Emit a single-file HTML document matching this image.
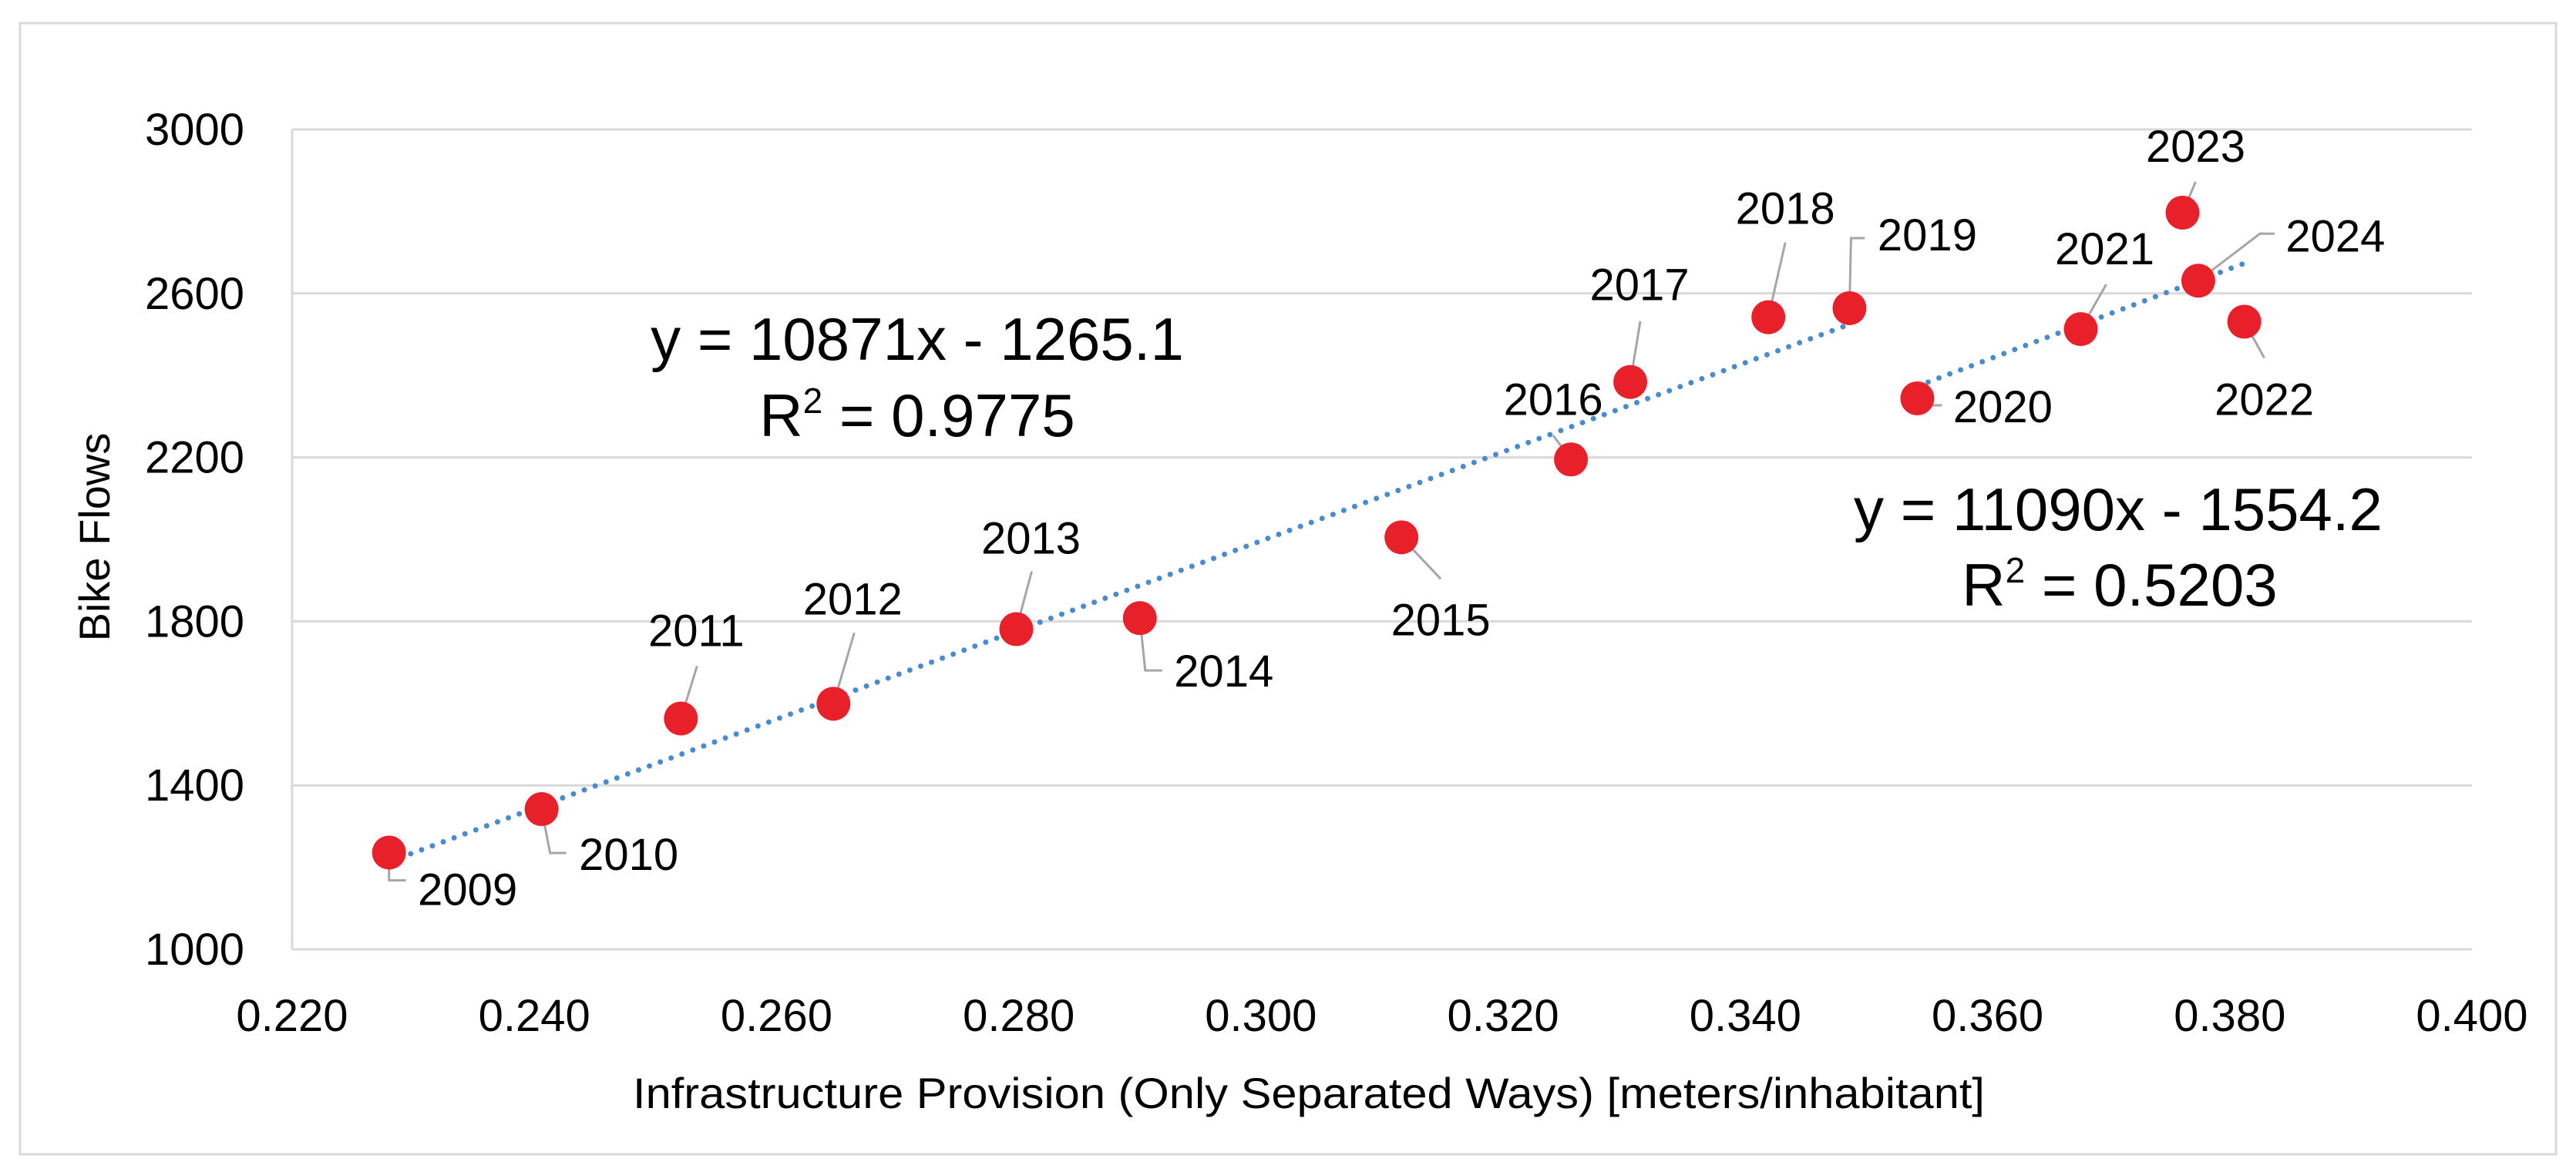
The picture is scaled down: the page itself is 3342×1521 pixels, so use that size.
<!DOCTYPE html>
<html><head><meta charset="utf-8">
<style>
html,body{margin:0;padding:0;background:#fff;}
svg{display:block;font-family:"Liberation Sans",sans-serif;}
</style></head>
<body>
<svg id="chart" width="3342" height="1521" viewBox="0 0 3342 1521" xmlns="http://www.w3.org/2000/svg">
<rect x="26" y="30" width="3290" height="1468" fill="#fff" stroke="#d9d9d9" stroke-width="3"/>
<g id="grid"></g><g id="trend"></g><g id="leaders"></g><g id="points"></g><g id="labels"></g><g id="ticks"></g>
<text transform="translate(142,697) rotate(-90)" text-anchor="middle" font-size="56" fill="#000">Bike Flows</text>
<text x="821" y="1438" font-size="56" textLength="1754" lengthAdjust="spacingAndGlyphs" fill="#000">Infrastructure Provision (Only Separated Ways) [meters/inhabitant]</text>
<g font-size="78" text-anchor="middle" fill="#000">
<text x="1190" y="467">y = 10871x - 1265.1</text>
<text x="1190" y="566">R<tspan dy="-30" font-size="46">2</tspan><tspan dy="30"> = 0.9775</tspan></text>
</g>
<g font-size="78" text-anchor="middle" fill="#000">
<text x="2748" y="688">y = 11090x - 1554.2</text>
<text x="2750" y="786">R<tspan dy="-30" font-size="46">2</tspan><tspan dy="30"> = 0.5203</tspan></text>
</g>
</svg>
<script>
const years=["2009","2010","2011","2012","2013","2014","2015","2016","2017","2018","2019","2020","2021","2022","2023","2024"];
const xVals=[0.2280,0.2406,0.2521,0.2647,0.2798,0.2900,0.3116,0.3256,0.3305,0.3419,0.3486,0.3542,0.3677,0.3812,0.3761,0.3774];
const yVals=[1236,1342,1563,1599,1781,1808,2005,2195,2384,2542,2564,2344,2513,2531,2797,2631];
const xTicks=["0.220","0.240","0.260","0.280","0.300","0.320","0.340","0.360","0.380","0.400"];
const yTicks=["1000","1400","1800","2200","2600","3000"];
const trend1=[10871,-1265.1];
const trend2=[11090,-1554.2];
const NS="http://www.w3.org/2000/svg";
const L=379,R=3207,T=168,B=1232,X0=0.22,X1=0.4,Y0=1000,Y1=3000;
const sx=v=>L+(v-X0)/(X1-X0)*(R-L);
const sy=v=>B-(v-Y0)/(Y1-Y0)*(B-T);
function mk(tag,attrs,parent){const e=document.createElementNS(NS,tag);for(const k in attrs)e.setAttribute(k,attrs[k]);document.getElementById(parent).appendChild(e);return e;}
yTicks.forEach(t=>{const y=sy(+t);
 const g=mk('line',{x1:L,x2:R,y1:y,y2:y,stroke:'#d9d9d9','stroke-width':3},'grid');
 
 
 const tx=mk('text',{x:317,y:y+20,'text-anchor':'end','font-size':58},'ticks');tx.textContent=t;
 
 
});
const ax=mk('line',{x1:L,x2:L,y1:T,y2:B,stroke:'#d9d9d9','stroke-width':3},'grid');


xTicks.forEach(t=>{const tx=mk('text',{x:sx(+t),y:1338,'text-anchor':'middle','font-size':58},'ticks');tx.textContent=t;
 
 
});
function trend(c,i0,i1,name){const xs=xVals.slice(i0,i1+1);const a=Math.min(...xs),b=Math.max(...xs);
 const l=mk('line',{x1:sx(a),y1:sy(c[0]*a+c[1]),x2:sx(b),y2:sy(c[0]*b+c[1]),stroke:'#4a8bd0','stroke-width':7,'stroke-linecap':'round','stroke-dasharray':'0 15'},'trend');
 
 }
trend(trend1,0,10,'trendline-2009-2019');
trend(trend2,11,15,'trendline-2020-2024');
// label offsets (pixels) relative to point: [labelDx,labelDy, leader path offsets]
const lab={
"2009":[102,48,[[0,0],[0,36],[22,36]]],"2010":[113,59,[[0,0],[11,57],[32,57]]],
"2011":[20,-114,[[0,0],[21,-68]]],"2012":[25,-136,[[0,0],[27,-92]]],
"2013":[19,-118,[[0,0],[20,-75]]],"2014":[109,69,[[0,0],[7,68],[29,68]]],
"2015":[51,107,[[0,0],[51,54]]],"2016":[-23,-78,[[0,0],[-23,-31]]],
"2017":[12,-126,[[0,0],[13,-79]]],"2018":[22,-141,[[0,0],[22,-97]]],
"2019":[101,-95,[[0,0],[2,-91],[20,-91]]],"2020":[111,11,[[0,0],[11,9],[32,9]]],
"2021":[31,-104,[[0,0],[33,-58]]],"2022":[26,101,[[0,0],[26,47]]],
"2023":[17,-86,[[0,0],[17,-40]]],"2024":[178,-58,[[0,0],[80,-61],[99,-61]]]};
years.forEach((yr,i)=>{const px=sx(xVals[i]),py=sy(yVals[i]);
 const c=mk('circle',{cx:px,cy:py,r:22,fill:'#e8202a'},'points');
 
 
 const o=lab[yr];
 const p=mk('polyline',{points:o[2].map(q=>(px+q[0])+','+(py+q[1])).join(' '),fill:'none',stroke:'#a6a6a6','stroke-width':3},'leaders');
 
 
 const t=mk('text',{x:px+o[0],y:py+o[1]+20,'text-anchor':'middle','font-size':58},'labels');t.textContent=yr;
 
 
});
</script>
</body></html>
